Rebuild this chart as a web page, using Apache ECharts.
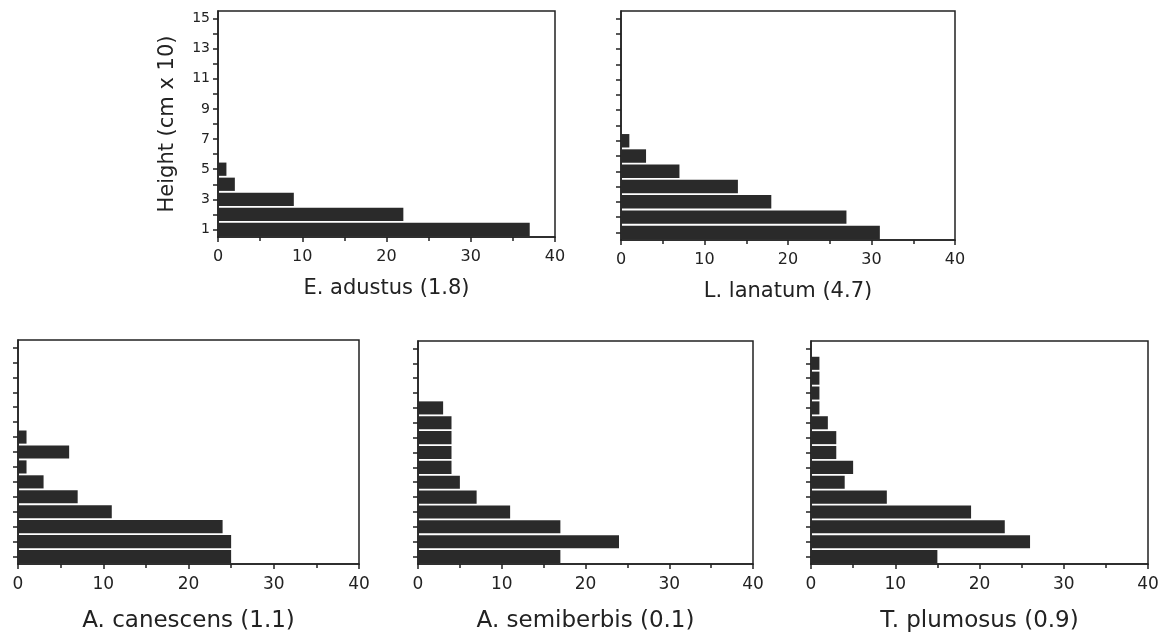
<!DOCTYPE html>
<html>
<head>
<meta charset="utf-8">
<script src="https://cdn.jsdelivr.net/npm/echarts/dist/echarts.min.js"></script>
<style>
  html, body { margin: 0; padding: 0; background: #fff; }
  #chart { width: 1168px; height: 634px; }
</style>
</head>
<body>
<div id="chart"></div>
<script>
// height classes (cm x 10)
const heights = ['1','2','3','4','5','6','7','8','9','10','11','12','13','14','15'];

const adustus    = [37, 22, 9, 2, 1, 0, 0, 0, 0, 0, 0, 0, 0, 0, 0];
const lanatum    = [31, 27, 18, 14, 7, 3, 1, 0, 0, 0, 0, 0, 0, 0, 0];
const canescens  = [25, 25, 24, 11, 7, 3, 1, 6, 1, 0, 0, 0, 0, 0, 0];
const semiberbis = [17, 24, 17, 11, 7, 5, 4, 4, 4, 4, 3, 0, 0, 0, 0];
const plumosus   = [15, 26, 23, 19, 9, 4, 5, 3, 3, 2, 1, 1, 1, 1, 0];

const names = ['E. adustus (1.8)', 'L. lanatum (4.7)', 'A. canescens (1.1)', 'A. semiberbis (0.1)', 'T. plumosus (0.9)'];
const xTicks = [0, 10, 20, 30, 40];

let font = 'DejaVu Sans';
let ink = '#222';

let panels = [
  {data: adustus,    grid: {left: 218, top: 11,  width: 337, height: 226}, big: false},
  {data: lanatum,    grid: {left: 621, top: 11,  width: 334, height: 229}, big: false},
  {data: canescens,  grid: {left: 18,  top: 340, width: 341, height: 227}, big: true},
  {data: semiberbis, grid: {left: 418, top: 341, width: 335, height: 226}, big: true},
  {data: plumosus,   grid: {left: 811, top: 341, width: 337, height: 226}, big: true}
];

let grid = [], xAxis = [], yAxis = [], series = [];
panels.forEach(function (p, i) {
  grid.push(Object.assign({show: true, borderColor: ink, borderWidth: 1.5, backgroundColor: '#fff'}, p.grid));
  xAxis.push({
    type: 'value', gridIndex: i,
    min: xTicks[0], max: xTicks[xTicks.length - 1], interval: 10,
    name: names[i], nameLocation: 'middle',
    nameGap: p.big ? 46 : 41,
    nameTextStyle: {fontFamily: font, fontSize: p.big ? 23 : 21, color: ink},
    axisLine: {show: true, lineStyle: {color: ink, width: 1.5}},
    axisTick: {show: true, length: 5, lineStyle: {color: ink, width: 1.5}},
    minorTick: {show: true, splitNumber: 2, length: 4, lineStyle: {color: ink, width: 1.5}},
    splitLine: {show: false},
    axisLabel: {fontFamily: font, fontSize: p.big ? 17 : 16, color: ink, margin: 12}
  });
  yAxis.push({
    type: 'category', gridIndex: i, data: heights,
    name: i === 0 ? 'Height (cm x 10)' : '',
    nameLocation: 'middle', nameGap: 40,
    nameTextStyle: {fontFamily: font, fontSize: 21, color: ink},
    axisLine: {show: true, lineStyle: {color: ink, width: 1.5}},
    axisTick: {show: true, alignWithLabel: true, interval: 0, length: 5, lineStyle: {color: ink, width: 1.5}},
    axisLabel: {show: i === 0, interval: 1, fontFamily: font, fontSize: 14, color: ink, margin: 8},
    splitLine: {show: false}
  });
  series.push({
    type: 'bar', xAxisIndex: i, yAxisIndex: i,
    data: p.data,
    barCategoryGap: '12%',
    itemStyle: {color: '#2a2a2a'},
    animation: false
  });
});

let myChart = echarts.init(document.getElementById('chart'));
myChart.setOption({
  backgroundColor: '#fff',
  animation: false,
  grid: grid,
  xAxis: xAxis,
  yAxis: yAxis,
  series: series
});
</script>
</body>
</html>
